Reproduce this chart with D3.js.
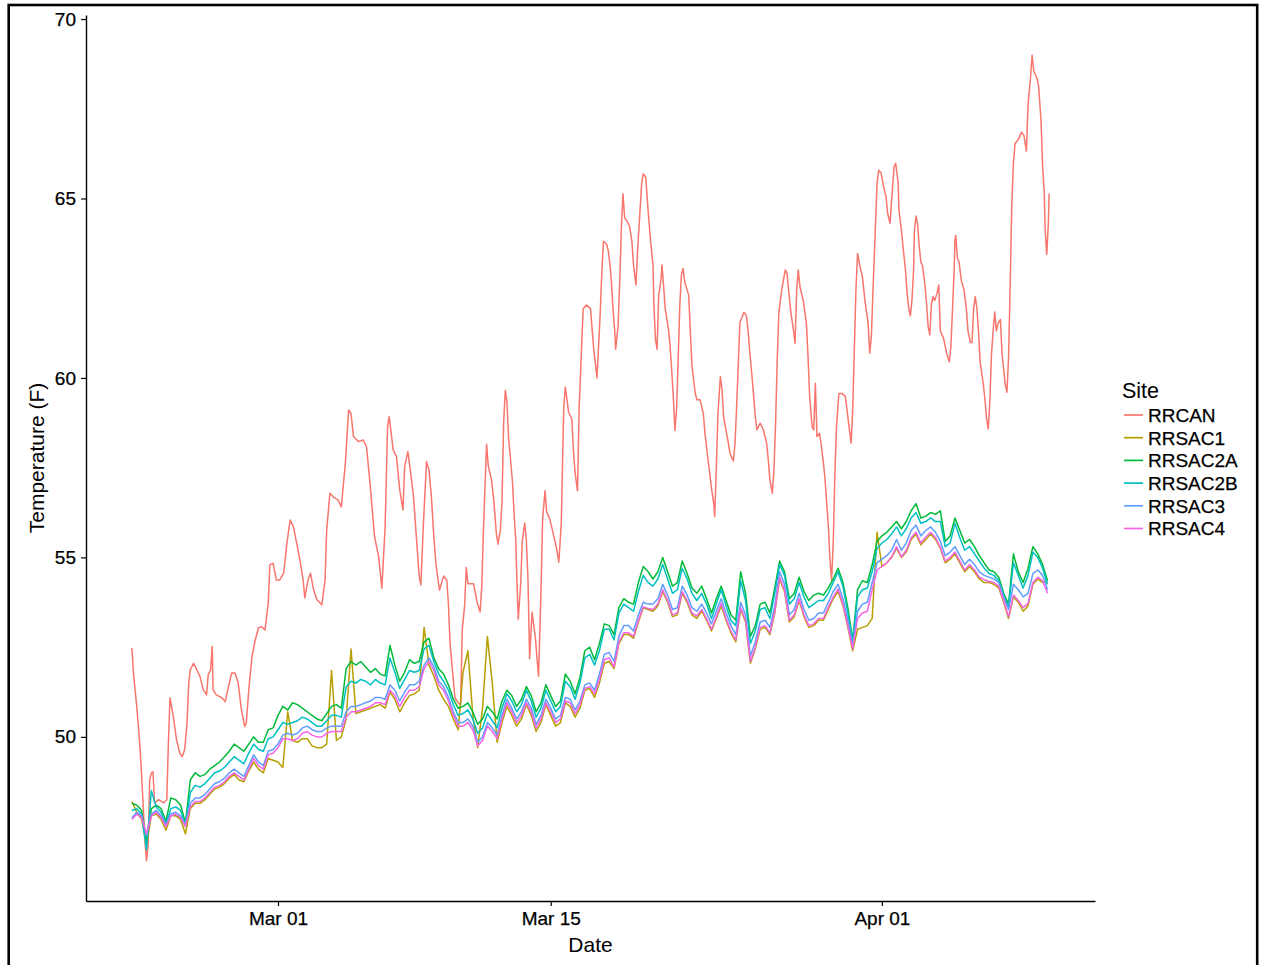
<!DOCTYPE html>
<html><head><meta charset="utf-8">
<script src="https://cdn.jsdelivr.net/npm/d3@7"></script>
<style>
body{margin:0;background:#fff;}
svg{display:block;}
text{font-family:"Liberation Sans", Arial, sans-serif;}
</style>
</head><body>
<svg id="chart" width="1263" height="965"></svg>
<script>
// ---------------- data ----------------
const sites = ["RRCAN","RRSAC1","RRSAC2A","RRSAC2B","RRSAC3","RRSAC4"];
const siteColors = ["#F8766D","#B79F00","#00BA38","#00BFC4","#619CFF","#F564E3"];
const startTime = Date.UTC(2016, 1, 22, 12); // first reading, 2016-02-22 12:00
const xTickDates = ["2016-03-01","2016-03-15","2016-04-01"];
const yTicks = [50, 55, 60, 65, 70];

// RRCAN readings (hours after first reading, temperature F)
const rrcanHours = [0,2,6,8,10,12,14,16,18,20,22,24,26,28,33,39,43,45,47,51,55,59,62,65,68,70,72,76,80,84,88,92,94,97,99,100,104,111,115,119,123,127,131,135,139,141,144,148,152,156,160,164,168,170,174,178,182,187,191,195,199,203,207,211,213,217,220,224,228,234,238,240,244,248,254,258,263,267,270,273,279,285,289,293,299,304,308,312,315,317,322,326,330,334,336,340,343,347,351,354,356,359,363,366,369,372,375,379,384,388,390,392,396,398,402,405,407,410,412,414,421,425,429,431,433,435,437,439,443,446,449,451,454,456,458,460,462,464,466,469,471,473,474,476,479,481,484,486,488,490,493,497,501,504,506,509,511,515,519,523,526,529,532,534,538,542,544,546,549,551,554,556,560,565,569,573,577,579,581,585,587,589,591,593,595,596,599,601,603,605,607,610,613,616,618,620,621,623,626,628,630,633,636,639,642,643,645,647,649,652,653,655,657,661,663,665,667,669,671,673,675,677,679,681,686,688,690,694,696,700,704,706,708,710,712,714,717,718,720,722,725,727,729,732,735,737,741,743,745,747,749,751,754,757,759,761,764,766,768,770,774,778,782,784,786,789,791,793,795,797,800,802,805,807,809,812,815,817,819,821,823,827,831,833,835,838,840,842,844,847,849,852,854,856,858,860,862,864,866,868,871,875,879,881,884,886,888,890,892,894,897,900,903,907,909,911,913,916,918,920,923,926,929,931,934,936,939,941,944,945,948,950,953,955,957,959,961,963,964,966,968,970,972,974,977,979,981,983,985,987,989,992,994,996,998,1000,1002,1004,1007,1009,1011,1013,1014,1015,1017,1019,1022,1025,1028,1030,1033,1035,1037,1039,1041,1043,1045,1047,1049,1051,1053,1055,1057,1059,1061,1063,1065,1067,1070,1072,1074,1076,1078,1080,1082,1084,1086,1088,1092,1096,1099,1102,1104,1107,1109,1111,1115,1117,1120,1122,1124,1125,1127,1129,1130];
const rrcanTemps = [52.48,51.77,50.85,50.29,49.73,48.94,48.06,47.13,46.55,46.95,48.8,48.99,49.03,48.16,48.25,48.16,48.25,49.83,51.09,50.57,49.92,49.55,49.45,49.64,50.39,51.5,51.87,52.05,51.87,51.68,51.31,51.17,51.73,51.87,52.52,51.31,51.17,51.09,50.98,51.4,51.78,51.78,51.5,50.75,50.29,50.39,51.31,52.24,52.7,53.04,53.07,52.98,53.72,54.79,54.84,54.37,54.37,54.56,55.4,56.04,55.86,55.4,54.93,54.37,53.87,54.37,54.56,54.09,53.82,53.68,54.37,55.77,56.79,56.69,56.6,56.41,57.62,59.11,59.01,58.37,58.23,58.27,58.09,57.16,55.58,55.02,54.14,55.86,58.64,58.92,57.99,57.81,56.88,56.32,57.53,57.95,57.44,56.69,55.4,54.47,54.23,55.86,57.67,57.44,56.69,55.58,54.74,54.09,54.48,54.37,53.68,52.59,51.59,51.09,50.95,50.89,52.98,53.68,54.72,54.27,54.27,53.78,53.48,54.18,55.67,56.96,58.15,57.56,57.16,56.56,55.67,55.37,55.77,56.56,58.75,59.65,59.35,58.36,57.86,57.06,56.16,55.47,54.57,53.28,54.27,55.47,55.96,55.47,54.37,52.18,53.48,52.78,51.69,54.08,56.06,56.86,56.27,56.06,55.67,55.27,54.87,55.96,59.15,59.75,59.05,58.85,57.96,57.36,56.86,59.15,60.84,61.93,62.03,61.93,60.8,60.0,61.83,62.96,63.81,63.72,63.53,63.15,62.59,61.83,61.27,60.8,61.46,62.68,64.19,65.13,64.47,64.37,64.23,63.81,63.15,62.77,62.59,63.53,64.66,65.41,65.69,65.6,64.66,63.81,63.15,62.12,61.08,60.8,62.3,62.77,63.15,62.59,61.93,61.36,60.9,60.23,59.48,58.54,59.1,60.51,62.02,62.87,63.05,62.68,62.3,61.27,60.33,59.58,59.39,59.39,59.01,58.45,58.07,57.69,57.32,56.94,56.47,56.14,57.5,59.01,60.04,59.67,58.92,58.54,58.16,57.88,57.69,58.16,59.2,60.33,61.55,61.65,61.83,61.74,61.36,60.78,60.04,59.48,58.92,58.55,58.74,58.55,58.18,57.72,57.16,56.79,57.44,58.74,60.5,61.8,62.36,62.64,63.01,62.92,62.45,61.8,61.34,60.97,62.45,63.01,62.54,62.17,61.52,60.59,59.48,58.64,58.55,59.85,58.37,58.46,58.18,57.62,57.16,56.51,55.86,54.93,54.37,55.4,57.25,58.64,59.57,59.57,59.48,59.11,58.55,58.18,59.11,60.78,62.45,63.47,63.1,62.82,62.17,61.52,60.69,61.15,62.45,64.21,65.43,65.79,65.71,65.33,65.05,64.59,64.31,64.96,65.89,65.98,65.43,64.68,64.12,63.65,63.01,62.37,61.94,61.73,62.16,63.01,64.08,64.51,64.29,63.65,63.23,63.12,62.59,62.06,61.42,61.2,62.06,62.27,62.16,62.37,62.59,61.31,61.2,61.1,60.88,60.67,60.45,60.88,61.94,63.01,63.86,63.97,63.33,63.23,62.69,62.48,61.94,61.31,60.99,60.99,61.94,62.27,61.94,61.31,60.45,60.13,59.81,59.38,58.85,58.58,59.38,60.67,61.31,61.84,61.31,61.52,61.63,60.67,60.24,59.81,59.6,60.56,62.59,64.83,66.0,66.53,66.64,66.85,66.75,66.32,67.6,68.35,68.99,68.56,68.35,68.13,67.17,65.89,65.14,64.19,63.44,64.29,65.14];

// RRSAC sites: one reading every 6 hours from the first reading
const sacStepHours = 6;
const rrsac1 = [48.2,47.9,47.7,47.0, 47.8,47.85,47.7,47.4, 47.8,47.8,47.7,47.3, 48.0,48.15,48.15,48.25, 48.4,48.55,48.6,48.7, 48.85,48.95,48.8,48.75, 49.05,49.3,49.1,49.0, 49.4,49.35,49.3,49.15, 50.7,49.9,49.85,49.95, 49.95,49.75,49.7,49.7, 49.8,51.85,49.9,50.0, 50.5,52.45,50.65,50.7, 50.75,50.8,50.85,50.9, 50.8,51.25,51.05,50.7, 50.95,51.15,51.2,51.3, 53.05,52.0,51.7,51.3, 51.05,50.85,50.5,50.2, 51.8,52.4,50.6,49.7, 50.8,52.8,51.5,49.85, 50.4,50.85,50.6,50.3, 50.5,50.9,50.6,50.15, 50.4,50.9,50.6,50.3, 50.4,50.95,50.85,50.55, 50.8,51.3,51.35,51.1, 51.5,52.05,52.1,51.9, 52.6,52.85,52.85,52.75, 53.2,53.6,53.55,53.5, 53.65,54.05,53.75,53.35, 53.4,54.0,53.75,53.4, 53.3,53.5,53.25,52.95, 53.3,53.65,53.25,52.9, 52.65,53.55,53.2,52.05, 52.45,53.0,53.05,52.85, 53.45,54.4,54.05,53.2, 53.35,53.8,53.35,53.05, 53.1,53.25,53.25,53.55, 53.85,54.05,53.65,53.05, 52.4,53.0,53.05,53.1, 53.3,55.7,54.75,54.85, 55.0,55.25,55.0,55.15, 55.5,55.65,55.35,55.5, 55.65,55.5,55.25,54.85, 54.95,55.1,54.85,54.6, 54.75,54.6,54.4,54.3, 54.3,54.25,54.15,53.75, 53.3,53.9,53.75,53.5, 53.65,54.25,54.4,54.3, 54.35];
const rrsac2a = [48.15,48.1,47.95,47.1, 48.0,48.1,48.0,47.65, 48.3,48.25,48.1,47.6, 48.8,49.0,48.9,48.95, 49.1,49.2,49.3,49.45, 49.6,49.8,49.7,49.6, 49.8,50.0,49.85,49.85, 50.2,50.25,50.6,50.85, 50.75,50.95,50.9,50.8, 50.7,50.6,50.5,50.45, 50.65,50.85,50.9,50.8, 51.9,52.1,52.0,52.1, 51.95,51.8,51.9,51.75, 51.7,52.55,52.0,51.55, 51.8,52.15,52.05,52.1, 52.65,52.75,52.2,51.9, 51.75,51.45,51.05,50.8, 50.85,50.95,50.7,50.35, 50.5,50.85,50.7,50.5, 51.0,51.3,51.15,50.85, 51.05,51.4,51.15,50.7, 50.95,51.45,51.15,50.85, 51.0,51.75,51.55,51.2, 51.65,52.4,52.5,52.15, 52.6,53.15,53.1,52.85, 53.6,53.85,53.75,53.7, 54.3,54.75,54.6,54.4, 54.6,55.0,54.6,54.2, 54.3,54.9,54.55,54.15, 54.0,54.2,53.85,53.45, 53.85,54.2,53.8,53.4, 53.25,54.6,54.0,52.8, 53.1,53.7,53.75,53.45, 54.15,54.9,54.6,53.85, 54.0,54.45,54.05,53.8, 53.95,54.0,53.95,54.15, 54.4,54.7,54.3,53.6, 52.7,54.1,54.35,54.3, 54.8,55.45,55.6,55.7, 55.85,56.0,55.8,56.0, 56.3,56.5,56.1,56.15, 56.25,56.2,56.3,55.45, 55.6,56.1,55.75,55.4, 55.5,55.3,55.05,54.85, 54.65,54.6,54.45,54.0, 53.7,55.1,54.6,54.3, 54.7,55.3,55.1,54.8, 54.35];
const rrsac2b = [47.95,48.0,47.85,46.85, 48.5,48.05,47.9,47.6, 48.0,48.05,47.95,47.55, 48.45,48.65,48.6,48.7, 48.85,49.0,49.05,49.15, 49.3,49.45,49.35,49.25, 49.55,49.8,49.65,49.6, 49.95,50.0,50.2,50.4, 50.35,50.4,50.45,50.55, 50.5,50.4,50.3,50.3, 50.45,50.6,50.6,50.55, 51.4,51.55,51.5,51.6, 51.55,51.45,51.6,51.5, 51.45,52.2,51.8,51.35, 51.6,51.85,51.8,51.85, 52.45,52.55,52.1,51.75, 51.55,51.3,50.9,50.6, 50.65,50.75,50.5,50.1, 50.25,50.65,50.45,50.25, 50.8,51.2,51.0,50.7, 50.9,51.3,51.0,50.55, 50.8,51.3,51.0,50.7, 50.85,51.55,51.4,51.05, 51.5,52.2,52.3,52.0, 52.4,53.0,53.0,52.7, 53.45,53.7,53.6,53.5, 54.05,54.5,54.3,54.2, 54.4,54.8,54.4,54.0, 54.1,54.7,54.4,54.0, 53.8,54.0,53.7,53.3, 53.7,54.1,53.65,53.25, 53.1,54.35,53.8,52.6, 52.95,53.55,53.6,53.3, 54.0,54.8,54.5,53.7, 53.85,54.3,53.9,53.6, 53.7,53.8,53.8,54.0, 54.3,54.6,54.2,53.45, 52.65,53.9,54.1,54.15, 54.6,55.25,55.4,55.5, 55.65,55.85,55.6,55.8, 56.1,56.25,55.95,56.0, 56.1,56.0,56.0,55.3, 55.4,55.95,55.55,55.2, 55.3,55.1,54.9,54.7, 54.55,54.5,54.35,53.95, 53.6,54.85,54.5,54.15, 54.5,55.15,55.0,54.7, 54.25];
const rrsac3 = [47.75,47.9,47.8,47.25, 47.85,47.95,47.8,47.55, 47.85,47.9,47.8,47.55, 48.15,48.3,48.3,48.4, 48.55,48.7,48.75,48.85, 49.0,49.1,49.0,48.9, 49.2,49.5,49.3,49.2, 49.6,49.65,49.8,50.05, 50.1,50.05,50.1,50.25, 50.3,50.2,50.15,50.15, 50.25,50.3,50.3,50.3, 50.7,50.85,50.85,50.9, 50.95,51.0,51.1,51.1, 51.05,51.45,51.3,51.0, 51.25,51.45,51.45,51.55, 52.0,52.2,51.95,51.55, 51.4,51.1,50.7,50.4, 50.4,50.5,50.3,49.85, 50.0,50.4,50.25,50.05, 50.6,51.05,50.8,50.5, 50.7,51.05,50.8,50.35, 50.6,51.05,50.8,50.5, 50.6,51.1,51.05,50.75, 51.0,51.45,51.5,51.3, 51.75,52.3,52.35,52.1, 52.8,53.1,53.1,52.95, 53.4,53.75,53.7,53.7, 53.85,54.25,53.95,53.55, 53.6,54.2,53.95,53.6, 53.5,53.7,53.45,53.15, 53.5,53.85,53.45,53.1, 52.85,53.75,53.4,52.25, 52.65,53.2,53.25,53.05, 53.65,54.6,54.25,53.4, 53.55,54.0,53.55,53.25, 53.3,53.45,53.45,53.75, 54.05,54.25,53.85,53.25, 52.55,53.5,53.7,53.75, 54.3,54.85,54.95,55.05, 55.2,55.5,55.2,55.4, 55.75,55.9,55.6,55.75, 55.85,55.7,55.45,55.05, 55.15,55.3,55.05,54.8, 54.95,54.8,54.6,54.5, 54.45,54.4,54.3,53.9, 53.55,54.25,54.1,53.9, 54.0,54.55,54.65,54.5, 54.1];
const rrsac4 = [47.7,47.85,47.75,47.3, 47.8,47.9,47.75,47.5, 47.8,47.85,47.75,47.5, 48.05,48.2,48.2,48.3, 48.45,48.6,48.65,48.75, 48.9,49.0,48.9,48.8, 49.1,49.4,49.2,49.1, 49.5,49.55,49.7,49.95, 49.95,49.9,49.95,50.1, 50.15,50.05,50.0,50.0, 50.1,50.15,50.15,50.15, 50.55,50.7,50.7,50.75, 50.8,50.85,50.95,50.95, 50.9,51.3,51.15,50.85, 51.1,51.3,51.3,51.4, 51.9,52.1,51.85,51.45, 51.3,51.0,50.6,50.3, 50.3,50.4,50.2,49.75, 49.9,50.3,50.15,49.95, 50.5,50.95,50.7,50.4, 50.6,50.95,50.7,50.25, 50.5,50.95,50.7,50.4, 50.5,51.0,50.95,50.65, 50.9,51.35,51.4,51.2, 51.6,52.15,52.2,51.95, 52.65,52.9,52.9,52.8, 53.25,53.62,53.58,53.55, 53.7,54.1,53.8,53.4, 53.45,54.05,53.8,53.45, 53.37,53.55,53.3,53.0, 53.35,53.72,53.3,52.95, 52.7,53.6,53.25,52.1, 52.5,53.05,53.1,52.9, 53.5,54.45,54.1,53.25, 53.4,53.85,53.4,53.1, 53.15,53.3,53.3,53.62, 53.9,54.12,53.7,53.1, 52.45,53.3,53.45,53.5, 54.1,54.65,54.75,54.85, 55.02,55.3,55.02,55.2, 55.55,55.7,55.4,55.57, 55.7,55.55,55.28,54.9, 55.0,55.15,54.9,54.65, 54.8,54.65,54.45,54.38, 54.33,54.3,54.2,53.8, 53.35,53.95,53.8,53.6, 53.72,54.3,54.45,54.35, 54.0];

// ---------------- build ----------------
const HOUR = 3600 * 1000;
const toSeries = (hours, temps) => temps.map((v, i) => ({t: new Date(startTime + hours[i] * HOUR), v}));
const sacSeries = temps => temps.map((v, i) => ({t: new Date(startTime + i * sacStepHours * HOUR), v}));
const series = [
  toSeries(rrcanHours, rrcanTemps),
  sacSeries(rrsac1), sacSeries(rrsac2a), sacSeries(rrsac2b), sacSeries(rrsac3), sacSeries(rrsac4)
];

const svg = d3.select("#chart");
svg.append("rect").attr("width", 1263).attr("height", 965).attr("fill", "#fff");

const plot = {left: 86, right: 1095, top: 15, bottom: 901};
const all = series.flat();
const expand = (ext, f) => { const d = ext[1] - ext[0]; return [ext[0] - d * f, ext[1] + d * f]; };
const tExt = d3.extent(all, d => +d.t);
const xDom = expand(tExt, 0.05).map(t => new Date(t));
const yDom = expand(d3.extent(all, d => d.v), 0.05);

const x = d3.scaleUtc().domain(xDom).range([plot.left, plot.right]);
const y = d3.scaleLinear().domain(yDom).range([plot.bottom, plot.top]);

// lines
const line = d3.line().x(d => x(d.t)).y(d => y(d.v));
series.forEach((s, i) => {
  svg.append("path").datum(s)
    .attr("fill", "none").attr("stroke", siteColors[i])
    .attr("stroke-width", 1.5).attr("stroke-linejoin", "round")
    .attr("d", line);
});

// axes
const xTicks = xTickDates.map(s => new Date(s + "T00:00:00Z"));
const gx = svg.append("g").attr("transform", `translate(0,${plot.bottom})`)
  .call(d3.axisBottom(x).tickValues(xTicks).tickFormat(d3.utcFormat("%b %d"))
    .tickSizeInner(5).tickSizeOuter(0).tickPadding(6));
const gy = svg.append("g").attr("transform", `translate(${plot.left},0)`)
  .call(d3.axisLeft(y).tickValues(yTicks).tickFormat(d3.format("d"))
    .tickSizeInner(5).tickSizeOuter(0).tickPadding(5));
[gx, gy].forEach(g => {
  g.attr("font-family", null).attr("font-size", null);
  g.select(".domain").attr("stroke", "#000").attr("stroke-width", 1.4);
  g.selectAll(".tick line").attr("stroke", "#000").attr("stroke-width", 1.2);
  g.selectAll(".tick text").attr("fill", "#000").style("font-size", "19px")
    .attr("stroke", "#000").attr("stroke-width", 0.25);
});

// axis titles
svg.append("text").attr("x", (plot.left + plot.right) / 2).attr("y", 952)
  .attr("text-anchor", "middle").style("font-size", "21px").attr("fill", "#000").text("Date");
svg.append("text").attr("transform", `translate(44,${(plot.top + plot.bottom) / 2}) rotate(-90)`)
  .attr("text-anchor", "middle").style("font-size", "21px").attr("fill", "#000").text("Temperature (F)");

// legend
const legend = svg.append("g");
legend.append("text").attr("x", 1122).attr("y", 398).style("font-size", "21.5px").attr("fill", "#000").text("Site");
sites.forEach((name, i) => {
  const ly = 415 + i * 22.7;
  legend.append("line").attr("x1", 1124).attr("x2", 1143).attr("y1", ly).attr("y2", ly)
    .attr("stroke", siteColors[i]).attr("stroke-width", 1.7);
  legend.append("text").attr("x", 1148).attr("y", ly).attr("dy", "0.36em")
    .style("font-size", "19px").attr("fill", "#000")
    .attr("stroke", "#000").attr("stroke-width", 0.25).text(name);
});

// outer frame
svg.append("rect").attr("x", 8.7).attr("y", 5).attr("width", 1248.5).attr("height", 980)
  .attr("fill", "none").attr("stroke", "#000").attr("stroke-width", 2.6);
</script>
</body></html>
